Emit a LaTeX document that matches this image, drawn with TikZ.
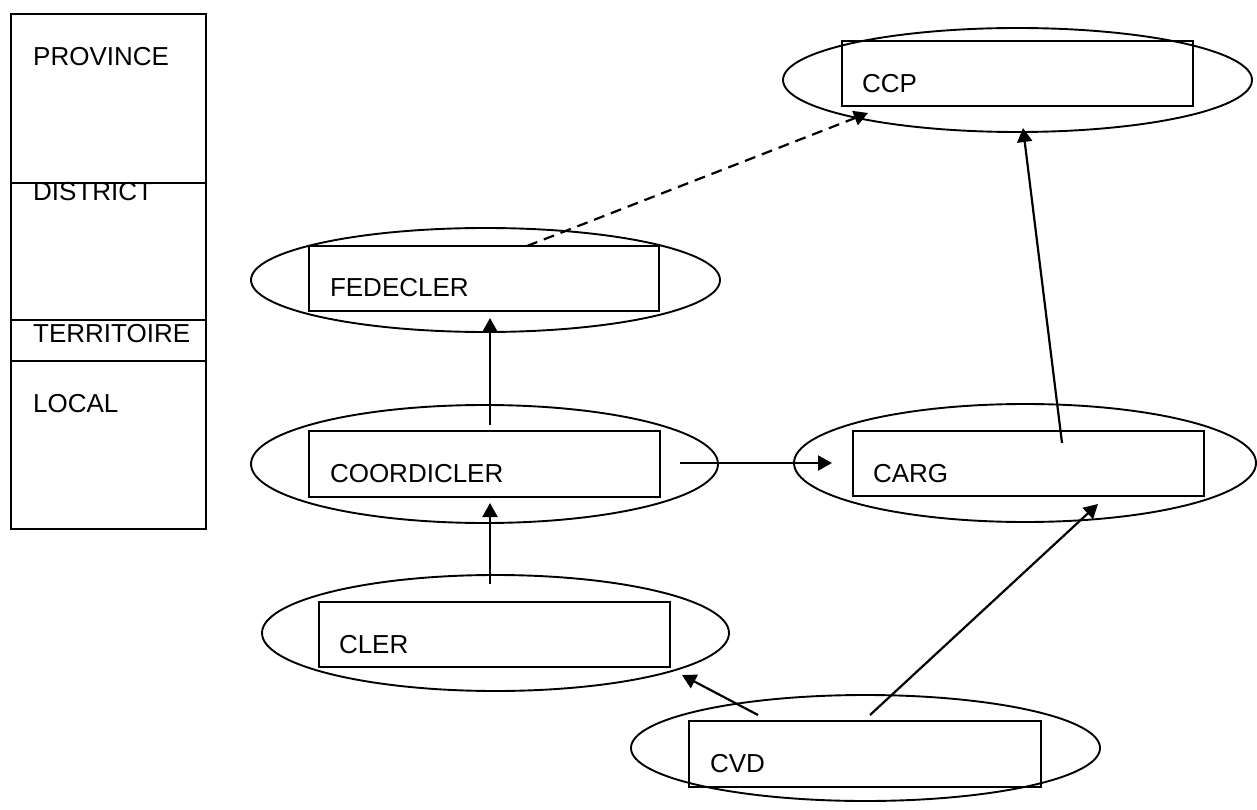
\documentclass[tikz,border=0pt]{standalone}
\usepackage{fontspec}
\setmainfont{Liberation Sans}
\usetikzlibrary{positioning,arrows.meta,shapes.geometric}

\begin{document}
\begin{tikzpicture}[
  x=1pt, y=-1pt,
  every node/.style={font=\fontsize{26}{30}\selectfont},
  ring/.style={draw, ellipse, line width=1.9pt, inner sep=0pt, minimum width=468pt, minimum height=106pt},
  box/.style={draw, line width=2.4pt, inner sep=0pt, minimum width=351pt, minimum height=65pt},
  lbl/.style={anchor=west, inner sep=0pt},
  level/.style={anchor=west, inner sep=0pt},
  arrow/.style={-{Triangle[length=14pt, width=15pt]}, line width=2.2pt},
  dasharrow/.style={arrow, dash pattern=on 11pt off 7pt}
]
\useasboundingbox (0,0) rectangle (1257,810);

% levels column
\draw[line width=1.9pt] (11,14) rectangle (206,529);
\draw[line width=1.9pt] (11,183) -- (206,183);
\draw[line width=1.9pt] (11,320) -- (206,320);
\draw[line width=1.9pt] (11,361) -- (206,361);
\node[level] (province) at (33,57) {PROVINCE};
\node[level] (district) at (33,192) {DISTRICT};
\node[level] (territoire) at (33,334) {TERRITOIRE};
\node[level] (local) at (33,404) {LOCAL};

% ellipses
\node[ring, minimum width=469pt, minimum height=104pt] (ccpring) at (1017.5,80) {};
\node[ring, minimum width=469pt, minimum height=104pt] (fedeclerring) at (485.5,280) {};
\node[ring, minimum width=467pt, minimum height=118pt] (coordiclerring) at (484.5,464) {};
\node[ring, minimum width=462pt, minimum height=118pt] (cargring) at (1025,463) {};
\node[ring, minimum width=467pt, minimum height=116pt] (clerring) at (495.5,633) {};
\node[ring, minimum width=469pt, minimum height=106pt] (cvdring) at (865.5,748) {};

% boxes
\node[box] (ccp) at (1017.5,73.5) {};
\node[box, minimum width=350pt] (fedecler) at (484,278.5) {};
\node[box, minimum height=66pt] (coordicler) at (484.5,464) {};
\node[box] (carg) at (1028.5,463.5) {};
\node[box] (cler) at (494.5,634.5) {};
\node[box, minimum width=352pt, minimum height=66pt] (cvd) at (865,754) {};

\node[lbl, right=21pt of ccp.west, yshift=-10pt] (ccptext) {CCP};
\node[lbl, right=22pt of fedecler.west, yshift=-9pt] (fedeclertext) {FEDECLER};
\node[lbl, right=22pt of coordicler.west, yshift=-10pt] (coordiclertext) {COORDICLER};
\node[lbl, right=21pt of carg.west, yshift=-10pt] (cargtext) {CARG};
\node[lbl, right=21pt of cler.west, yshift=-10pt] (clertext) {CLER};
\node[lbl, right=22pt of cvd.west, yshift=-10pt] (cvdtext) {CVD};

% arrow ends
\coordinate (fedeclerout) at (527,246);
\coordinate (ccpin1) at (868,113);
\coordinate (cargout1) at (1062,443);
\coordinate (ccpin2) at (1023,128);
\coordinate (coordiclerout1) at (490,425);
\coordinate (fedeclerin) at (490,318);
\coordinate (clerout) at (490,584);
\coordinate (coordiclerin) at (490,503);
\coordinate (coordiclerout2) at (680,463);
\coordinate (cargin1) at (832,463);
\coordinate (cvdout1) at (758,715);
\coordinate (clerin) at (682,675);
\coordinate (cvdout2) at (870,715);
\coordinate (cargin2) at (1098,504);

\draw[dasharrow] (fedeclerout) -- (ccpin1);
\draw[arrow] (cargout1) -- (ccpin2);
\draw[arrow] (coordiclerout1) -- (fedeclerin);
\draw[arrow] (clerout) -- (coordiclerin);
\draw[arrow] (coordiclerout2) -- (cargin1);
\draw[arrow] (cvdout1) -- (clerin);
\draw[arrow] (cvdout2) -- (cargin2);
\end{tikzpicture}
\end{document}
